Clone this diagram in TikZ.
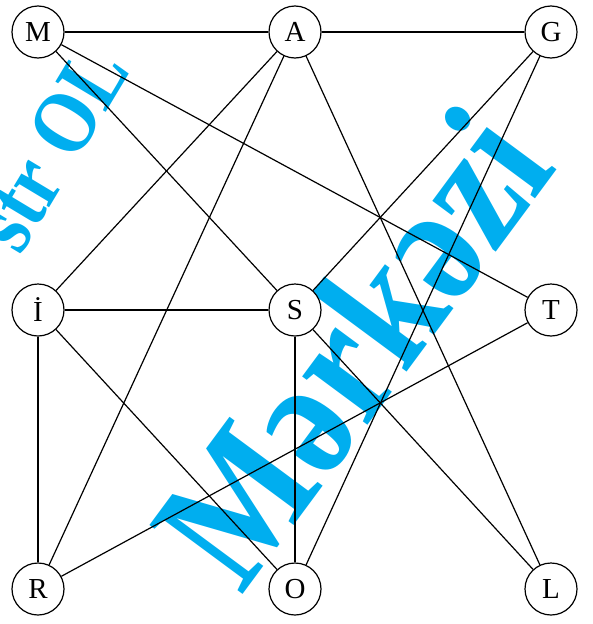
\documentclass[tikz,border=0pt]{standalone}
\usepackage{graphicx}
\usepackage{fontspec}
\setmainfont{Liberation Serif}
\definecolor{wm}{RGB}{0,174,239}
\begin{document}
\begin{tikzpicture}[x=1pt,y=-1pt,
  vtx/.style={circle,draw,line width=1.2pt,fill=white,minimum size=52pt,inner sep=0pt,font=\fontsize{29}{29}\selectfont},
  edge/.style={line width=1.2pt},
  wmark/.style={text=wm,anchor=base,inner sep=0pt}]
\useasboundingbox (0,0) rectangle (592,624);
\begin{scope}
  \clip (0,0) rectangle (592,624);
  \node[wmark,rotate=53.5,font=\bfseries\fontsize{150}{150}\selectfont] (w1) at (400,382) {\scalebox{1}[1.18]{Mərkəzi}};
  \node[wmark,rotate=59,font=\bfseries\fontsize{76}{76}\selectfont] (w2) at (76,163) {\scalebox{1}[1.18]{str OL}};
\end{scope}
\node[vtx] (M) at (38,32) {M};
\node[vtx] (A) at (295,32) {A};
\node[vtx] (G) at (551,32) {G};
\node[vtx] (I) at (38,310) {İ};
\node[vtx] (S) at (295,310) {S};
\node[vtx] (T) at (551,310) {T};
\node[vtx] (R) at (38,589) {R};
\node[vtx] (O) at (295,589) {O};
\node[vtx] (L) at (551,589) {L};
\draw[edge] (M) -- (A);
\draw[edge] (A) -- (G);
\draw[edge] (M) -- (S);
\draw[edge] (M) -- (T);
\draw[edge] (A) -- (I);
\draw[edge] (A) -- (R);
\draw[edge] (A) -- (L);
\draw[edge] (G) -- (S);
\draw[edge] (G) -- (O);
\draw[edge] (I) -- (S);
\draw[edge] (I) -- (R);
\draw[edge] (I) -- (O);
\draw[edge] (S) -- (O);
\draw[edge] (S) -- (L);
\draw[edge] (T) -- (R);
\end{tikzpicture}
\end{document}
